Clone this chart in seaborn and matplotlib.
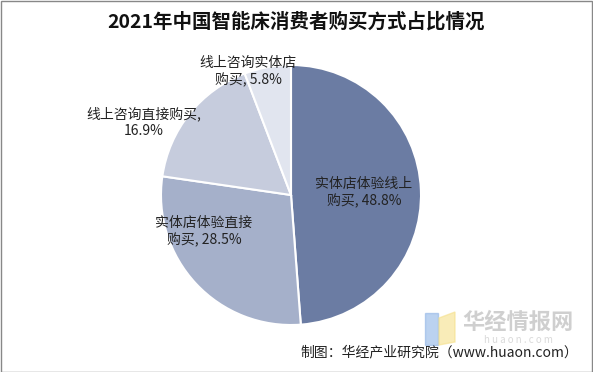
import matplotlib
matplotlib.use("Agg")
import matplotlib.pyplot as plt
import seaborn as sns
from matplotlib.patches import Rectangle, Polygon

sns.set_theme(style="white")
plt.rcParams['font.family'] = ['Noto Sans CJK SC', 'DejaVu Sans']

title = "2021年中国智能床消费者购买方式占比情况"
categories = ["实体店体验线上购买", "实体店体验直接购买", "线上咨询直接购买", "线上咨询实体店购买"]
values = [48.8, 28.5, 16.9, 5.8]
label_texts = ["实体店体验线上\n购买, 48.8%", "实体店体验直接\n购买, 28.5%", "线上咨询直接购买,\n16.9%", "线上咨询实体店\n购买, 5.8%"]
colors = ["#6b7ca3", "#a5b0ca", "#c6ccdd", "#e1e5ef"]
label_pos = [(0.56, 0.02), (-0.67, -0.28), (-1.13, 0.56), (-0.33, 0.95)]
source = "制图：华经产业研究院（www.huaon.com）"

W, H = 593, 372
fig = plt.figure(figsize=(W / 100, H / 100), dpi=100)
cx, cy, r = 291, 195, 130
ax = fig.add_axes([(cx - r) / W, (H - cy - r) / H, 2 * r / W, 2 * r / H])
ax.pie(values, colors=colors, startangle=90, counterclock=False,
       wedgeprops=dict(edgecolor="white", linewidth=1.5))
ax.set_xlim(-1, 1)
ax.set_ylim(-1, 1)
ax.set_aspect("equal")
ax.axis("off")

for txt, (x, y) in zip(label_texts, label_pos):
    ax.text(x, y, txt, ha="center", va="center", fontsize=10, color="#222222",
            linespacing=1.2)

fig.text(0.5, 1 - 22 / H, title, ha="center", va="center", fontsize=14,
         fontweight="bold", color="#111111")

# watermark logo
fig.patches.append(Rectangle((425 / W, 1 - 345 / H), 13 / W, 32 / H,
                             transform=fig.transFigure, color="#8fb4e6", alpha=0.6, zorder=0))
fig.patches.append(Polygon([(439 / W, 1 - 318 / H), (455 / W, 1 - 312 / H),
                            (455 / W, 1 - 342 / H), (439 / W, 1 - 345 / H)],
                           closed=True, transform=fig.transFigure, color="#f5e08a", alpha=0.6, zorder=0))
fig.text(518 / W, 1 - 322 / H, "华经情报网", ha="center", va="center", fontsize=16,
         fontweight="bold", color="#c4c4c4", alpha=0.8)
fig.text(518 / W, 1 - 340 / H, "h u a o n . c o m", ha="center", va="center", fontsize=7,
         color="#d0d0d0", alpha=0.8)

fig.text(578 / W, 1 - 352 / H, source, ha="right", va="center", fontsize=10, color="#222222")

fig.patches.append(Rectangle((0.5 / W, 0.5 / H), 1 - 1.5 / W, 1 - 1.5 / H,
                             transform=fig.transFigure, fill=False, edgecolor="#888888", linewidth=1))

fig.savefig("out.png", dpi=100)
